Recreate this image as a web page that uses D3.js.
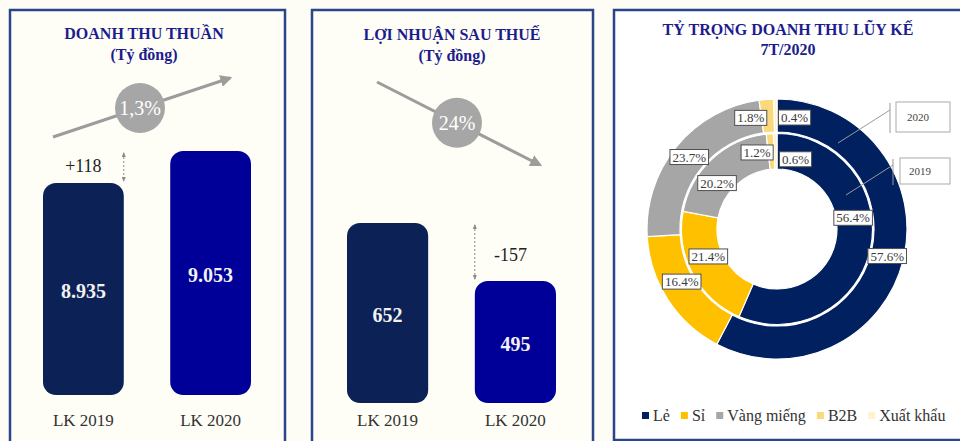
<!DOCTYPE html>
<html>
<head>
<meta charset="utf-8">
<script src="https://cdn.jsdelivr.net/npm/d3@7"></script>
<style>
  body { margin: 0; background: #fdfdf5; }
  svg { display: block; font-family: "Liberation Serif", "Times New Roman", serif; }
</style>
</head>
<body>
<svg id="chart"></svg>
<script>
// ---- data ----
periods = ["LK 2019", "LK 2020"]
revenue = [8935, 9053]      // Doanh thu thuần, tỷ đồng
profit = [652, 495]         // Lợi nhuận sau thuế, tỷ đồng
segments = ["Lẻ", "Sỉ", "Vàng miếng", "B2B", "Xuất khẩu"]
share2020 = [57.6, 16.4, 23.7, 1.8, 0.4]
share2019 = [56.4, 21.4, 20.2, 1.2, 0.6]
segmentColors = ["#002060", "#ffc000", "#a6a6a6", "#f9d97c", "#fff2cc"]

width = 960
height = 441
vn = d3.formatLocale({decimal: ",", thousands: ".", grouping: [3], currency: ["", ""]})

svg = d3.select('#chart').attr('width', width).attr('height', height)

// panel frames
panels = [
  {x: 10, y: 10, w: 275, h: 460, fill: '#fefef6'},
  {x: 312, y: 10, w: 281, h: 460, fill: '#fefef6'},
  {x: 614, y: 10, w: 360, h: 430, fill: '#ffffff'}
]
svg.selectAll('.panel').data(panels).enter()
  .append('rect')
  .attr('class', 'panel')
  .attr('x', d => d.x).attr('y', d => d.y)
  .attr('width', d => d.w).attr('height', d => d.h)
  .attr('fill', d => d.fill)
  .attr('stroke', '#29468a')
  .attr('stroke-width', 2.5)

function title(cx, y1, lines) {
  svg.selectAll(null).data(lines).enter()
    .append('text')
    .text(d => d)
    .attr('x', cx)
    .attr('y', (d, i) => y1 + i * 21)
    .attr('text-anchor', 'middle')
    .attr('font-weight', 'bold')
    .attr('font-size', 16)
    .attr('fill', '#1c1c8f')
}

// marker for the trend arrows and the dotted difference arrows
defs = svg.append('defs')
defs.append('marker').attr('id', 'trendHead')
  .attr('viewBox', '0 0 10 10').attr('refX', 8).attr('refY', 5)
  .attr('markerWidth', 4).attr('markerHeight', 4).attr('orient', 'auto')
  .append('path').attr('d', 'M0,0 L10,5 L0,10 z').attr('fill', '#9c9c9c')
defs.append('marker').attr('id', 'dotHead')
  .attr('viewBox', '0 0 10 10').attr('refX', 8).attr('refY', 5)
  .attr('markerWidth', 5).attr('markerHeight', 5).attr('orient', 'auto-start-reverse')
  .append('path').attr('d', 'M0,1 L10,5 L0,9 z').attr('fill', '#8a8a8a')

function trend(x1, y1, x2, y2, cx, label) {
  svg.append('line')
    .attr('x1', x1).attr('y1', y1).attr('x2', x2).attr('y2', y2)
    .attr('stroke', '#9c9c9c').attr('stroke-width', 3)
    .attr('marker-end', 'url(#trendHead)')
  var cy = y1 + (cx - x1) / (x2 - x1) * (y2 - y1)
  svg.append('circle').attr('cx', cx).attr('cy', cy).attr('r', 25).attr('fill', '#a6a6a6')
  svg.append('text').text(label)
    .attr('x', cx).attr('y', cy + 7)
    .attr('text-anchor', 'middle')
    .attr('font-size', 20)
    .attr('fill', '#ffffff')
}

// bar panel: scales with a cut baseline, like the source slide
function barPanel(values, x0, x1, yMin, base, top, diffSide) {
  var x = d3.scaleBand().domain(periods).range([x0, x1]).paddingInner(0.365)
  var y = d3.scaleLinear().domain([yMin, d3.max(values)]).range([base, top])
  var rows = periods.map((p, i) => ({period: p, value: values[i], i: i}))

  svg.selectAll(null).data(rows).enter()
    .append('rect')
    .attr('x', d => x(d.period))
    .attr('y', d => y(d.value))
    .attr('width', x.bandwidth())
    .attr('height', d => base - y(d.value))
    .attr('rx', 13)
    .attr('fill', d => d.i == 0 ? '#0c2257' : '#000099')

  svg.selectAll(null).data(rows).enter()
    .append('text')
    .text(d => vn.format(',')(d.value))
    .attr('x', d => x(d.period) + x.bandwidth() / 2)
    .attr('y', d => (y(d.value) + base) / 2 + 9)
    .attr('text-anchor', 'middle')
    .attr('font-weight', 'bold')
    .attr('font-size', 20)
    .attr('fill', '#f2f2f2')

  svg.selectAll(null).data(rows).enter()
    .append('text')
    .text(d => d.period)
    .attr('x', d => x(d.period) + x.bandwidth() / 2)
    .attr('y', 426)
    .attr('text-anchor', 'middle')
    .attr('font-size', 17)
    .attr('fill', '#333333')

  // difference between the two periods
  var diff = values[1] - values[0]
  var ax = diffSide == 'right' ? x(periods[0]) + x.bandwidth() : x(periods[1])
  svg.append('line')
    .attr('x1', ax).attr('x2', ax)
    .attr('y1', y(d3.max(values)) + 2).attr('y2', y(d3.min(values)) - 2)
    .attr('stroke', '#8a8a8a').attr('stroke-width', 1)
    .attr('stroke-dasharray', '2,2')
    .attr('marker-start', 'url(#dotHead)').attr('marker-end', 'url(#dotHead)')
  var lx = diffSide == 'right' ? x(periods[0]) + x.bandwidth() / 2 : x(periods[1]) + x.bandwidth() / 2 - 5
  var ly = diffSide == 'right' ? y(values[0]) - 11 : y(values[1]) - 20
  svg.append('text')
    .text((diff > 0 ? '+' : '') + diff)
    .attr('x', lx).attr('y', ly)
    .attr('text-anchor', 'middle')
    .attr('font-size', 18)
    .attr('fill', '#222222')
}

// ---- panel 1: doanh thu ----
title(144, 39, ['DOANH THU THUẦN', '(Tỷ đồng)'])
trend(53, 137, 230, 78, 140, vn.format('.1f')((revenue[1] - revenue[0]) / revenue[0] * 100) + '%')
barPanel(revenue, 43, 251, 8153, 395, 151, 'right')

// ---- panel 2: lợi nhuận ----
title(452, 40, ['LỢI NHUẬN SAU THUẾ', '(Tỷ đồng)'])
trend(377, 82, 540, 165, 457, vn.format('.0f')(Math.abs(profit[1] - profit[0]) / profit[0] * 100) + '%')
barPanel(profit, 347, 556, 165, 403, 223, 'left')

// ---- panel 3: cơ cấu doanh thu ----
title(788, 35, ['TỶ TRỌNG DOANH THU LŨY KẾ', '7T/2020'])
svg.selectAll('text').filter(function() { return this.textContent == '7T/2020' }).attr('y', 55)

cx = 777
cy = 229
pie = d3.pie().sort(null).value(d => d.v)
rings = [
  {year: '2020', values: share2020, r0: 97, r1: 130},
  {year: '2019', values: share2019, r0: 60, r1: 95.5}
]
// Excel labels that were dragged off the centroid by hand
nudge = {'2020-1': [0, -9], '2020-3': [-17, 2], '2020-4': [19, 2],
         '2019-0': [0, -27], '2019-1': [0, -9], '2019-2': [-7, 11], '2019-3': [-14, 1], '2019-4': [20, 8]}

donut = svg.append('g').attr('transform', `translate(${cx},${cy})`)
rings.forEach(function(ring) {
  var arc = d3.arc().innerRadius(ring.r0).outerRadius(ring.r1)
  var arcs = pie(ring.values.map((v, i) => ({v: v, i: i})))
  donut.selectAll(null).data(arcs).enter()
    .append('path')
    .attr('d', arc)
    .attr('fill', d => segmentColors[d.data.i])
    .attr('stroke', '#ffffff')
    .attr('stroke-width', 1.2)
  ring.arcs = arcs
  ring.arc = arc
})

// callouts for the ring years
callouts = [
  {text: '2020', from: [61, -86], to: [113, -119], box: [119, -127, 54, 30]},
  {text: '2019', from: [69, -34], to: [116, -64], box: [123, -71, 50, 26]}
]
callouts.forEach(function(c) {
  donut.append('line')
    .attr('x1', c.from[0]).attr('y1', c.from[1]).attr('x2', c.to[0]).attr('y2', c.to[1])
    .attr('stroke', '#9a9a9a').attr('stroke-width', 1)
  donut.append('line')
    .attr('x1', c.to[0]).attr('x2', c.to[0])
    .attr('y1', c.box[1] + 1).attr('y2', c.box[1] + c.box[3] + 1)
    .attr('stroke', '#9a9a9a').attr('stroke-width', 1)
  donut.append('rect')
    .attr('x', c.box[0]).attr('y', c.box[1]).attr('width', c.box[2]).attr('height', c.box[3])
    .attr('fill', '#ffffff').attr('stroke', '#aaaaaa').attr('stroke-width', 1)
  donut.append('text').text(c.text)
    .attr('x', c.box[0] + c.box[2] / 2 - 5).attr('y', c.box[1] + c.box[3] / 2 + 4)
    .attr('text-anchor', 'middle')
    .attr('font-size', 11)
    .attr('fill', '#444444')
})

// percentage labels in boxes
rings.forEach(function(ring) {
  var g = donut.selectAll(null).data(ring.arcs).enter()
    .append('g')
    .attr('transform', function(d) {
      var c = ring.arc.centroid(d)
      var n = nudge[ring.year + '-' + d.data.i] || [0, 0]
      return `translate(${c[0] + n[0]},${c[1] + n[1]})`
    })
  var t = g.append('text')
    .text(d => d3.format('.1f')(d.data.v) + '%')
    .attr('text-anchor', 'middle')
    .attr('y', 4.5)
    .attr('font-size', 13)
    .attr('fill', '#3a3a3a')
  g.each(function() {
    var tw = d3.select(this).select('text').node().getComputedTextLength()
    d3.select(this).insert('rect', 'text')
      .attr('x', -tw / 2 - 2.5).attr('y', -7.5)
      .attr('width', tw + 5).attr('height', 15)
      .attr('fill', '#ffffff')
      .attr('stroke', '#505050')
      .attr('stroke-width', 1)
  })
})

// legend
lx = 642
legend = svg.append('g')
segments.forEach(function(s, i) {
  legend.append('rect')
    .attr('x', lx).attr('y', 412).attr('width', 7).attr('height', 7)
    .attr('fill', segmentColors[i])
  var t = legend.append('text').text(s)
    .attr('x', lx + 11).attr('y', 421)
    .attr('font-size', 16)
    .attr('fill', '#333333')
  lx = lx + 11 + t.node().getComputedTextLength() + 11
})
</script>
</body>
</html>
